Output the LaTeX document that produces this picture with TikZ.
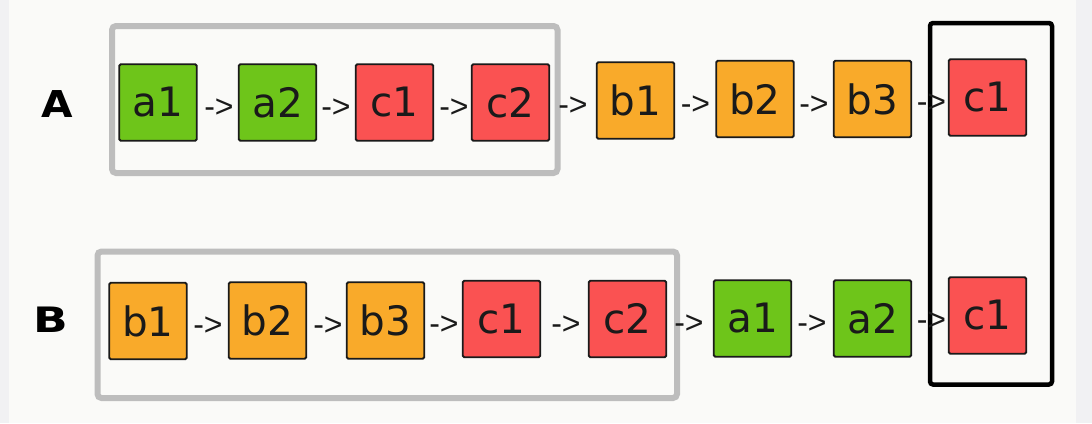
\documentclass[tikz,border=0pt]{standalone}
\usepackage{fontspec}
\usepackage{graphicx}
\setmainfont{DejaVu Sans}
\newfontfamily\arrowfont{Liberation Sans}
\usetikzlibrary{positioning}
\definecolor{bgc}{HTML}{FAFAF8}
\definecolor{stripc}{HTML}{F1F1F3}
\definecolor{grn}{HTML}{6EC51A}
\definecolor{rd}{HTML}{FA5252}
\definecolor{org}{HTML}{F9AA2A}
\definecolor{grayline}{HTML}{BDBDBD}
\definecolor{ink}{HTML}{1A1A1A}
\begin{document}
\begin{tikzpicture}[x=1pt,y=-1pt,
  cell/.style={draw=ink, line width=1.8pt, rounded corners=1.5pt,
    minimum width=77.5pt, minimum height=76.5pt, inner sep=0pt,
    font=\fontsize{40.5}{40.5}\selectfont, text=ink},
  gcell/.style={cell, fill=grn},
  rcell/.style={cell, fill=rd},
  ocell/.style={cell, fill=org},
  arr/.style={inner sep=0pt, font=\arrowfont\fontsize{32}{32}\selectfont, text=ink, yshift=-6pt},
  lbl/.style={inner sep=0pt, text=black},
  groupbox/.style={draw=grayline, line width=6pt, rounded corners=4pt},
  tailbox/.style={draw=black, line width=4.5pt, rounded corners=3pt}]
% background
\fill[stripc] (0,0) rectangle (1092,423);
\fill[bgc] (9,0) rectangle (1076,423);
\useasboundingbox (0,0) rectangle (1092,423);
% grouping outlines
\draw[groupbox] (112,26) rectangle (557.5,173);
\draw[groupbox] (97.5,251.5) rectangle (677,398);
% labels
\node[lbl, font=\bfseries\fontsize{37}{37}\selectfont] (lA) at (57,104) {\scalebox{1.1}[1]{A}};
\node[lbl, font=\bfseries\fontsize{35}{35}\selectfont] (lB) at (51,320) {\scalebox{1.3}[1]{B}};
% row A
\node[gcell] (A1) at (158,102.5) {a1};
\node[gcell] (A2) at (277.5,102.5) {a2};
\node[rcell] (A3) at (394.5,102.5) {c1};
\node[rcell] (A4) at (510.5,102.5) {c2};
\node[ocell] (A5) at (635.5,100.5) {b1};
\node[ocell] (A6) at (755,99) {b2};
\node[ocell] (A7) at (872.5,99) {b3};
\node[rcell] (A8) at (987.5,97.5) {c1};
% row B
\node[ocell] (B1) at (148,321) {b1};
\node[ocell] (B2) at (267.5,320.5) {b2};
\node[ocell] (B3) at (385.5,320.5) {b3};
\node[rcell] (B4) at (501.5,319) {c1};
\node[rcell] (B5) at (627.5,319) {c2};
\node[gcell] (B6) at (752.5,318.5) {a1};
\node[gcell] (B7) at (872.5,318.5) {a2};
\node[rcell] (B8) at (987.5,315.5) {c1};
% tail outline
\draw[tailbox] (930,23) rectangle (1052,384.5);
% arrows row A
\node[arr, left=4pt of A2] (ra1) {->};
\node[arr, left=4pt of A3] (ra2) {->};
\node[arr, left=2pt of A4] (ra3) {->};
\node[arr, left=8pt of A5] (ra4) {->};
\node[arr, left=5pt of A6] (ra5) {->};
\node[arr, left=4pt of A7] (ra6) {->};
\node[arr, left=1.5pt of A8] (ra7) {->};
% arrows row B
\node[arr, left=5pt of B2] (rb1) {->};
\node[arr, left=3pt of B3] (rb2) {->};
\node[arr, left=3pt of B4] (rb3) {->};
\node[arr, left=7pt of B5] (rb4) {->};
\node[arr, left=9pt of B6] (rb5) {->};
\node[arr, left=6pt of B7] (rb6) {->};
\node[arr, left=1.5pt of B8] (rb7) {->};
\end{tikzpicture}
\end{document}
